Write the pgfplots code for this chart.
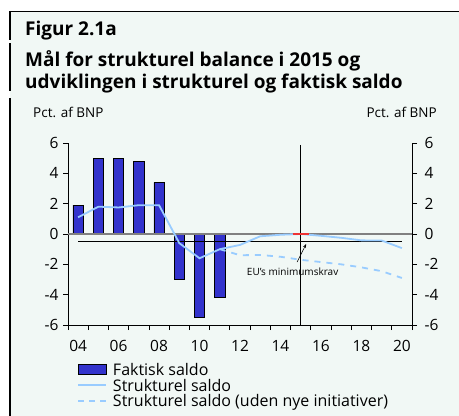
\documentclass[border=0pt]{standalone}
\usepackage{pgfplots}
\pgfplotsset{compat=1.18}
\usetikzlibrary{arrows.meta}
\usepackage{fontspec}
\setmainfont{Open Sans}
\definecolor{bg}{HTML}{F1F8F5}
\definecolor{barblue}{HTML}{3333CC}
\definecolor{lblue}{HTML}{99CCFF}
\definecolor{tred}{HTML}{EE3333}
\begin{document}
\begin{tikzpicture}[x=1pt,y=1pt]
\path[use as bounding box] (0,0) rectangle (459,-416);
\fill[bg] (10,-11) rectangle (459,-416);
\draw[line width=1pt] (9,-11) -- (459,-11);
\draw[line width=1.2pt] (10,-11) -- (10,-40) (10,-43) -- (10,-91) (10,-98) -- (10,-416);
\node[anchor=base west, inner sep=0, font=\fontsize{19}{22}\selectfont\bfseries] at (25,-35) {Figur 2.1a};
\node[anchor=base west, inner sep=0, font=\fontsize{19}{22}\selectfont\bfseries] at (25,-66) {Mål for strukturel balance i 2015 og};
\node[anchor=base west, inner sep=0, font=\fontsize{19}{22}\selectfont\bfseries] at (25,-88) {udviklingen i strukturel og faktisk saldo};
\node[anchor=base west, inner sep=0, font=\fontsize{13.5}{16}\selectfont] at (33,-117) {Pct. af BNP};
\node[anchor=base east, inner sep=0, font=\fontsize{13.5}{16}\selectfont] at (437,-117) {Pct. af BNP};

\begin{axis}[at={(68pt,-325pt)}, anchor=south west, scale only axis,
  width=344pt, height=182pt,
  xmin=2003.5, xmax=2020.5, ymin=-6, ymax=6,
  axis x line*=bottom, axis y line*=left,
  axis line style={line width=0.8pt, -},
  tick style={black, line width=0.8pt},
  major tick length=5pt, tick align=outside,
  ytick={-6,-4,-2,0,2,4,6}, yticklabels={-6,-4,-2,0,2,4,6},
  yticklabel style={xshift=-1pt},
  xtick={2003.5,2004.5,2005.5,2006.5,2007.5,2008.5,2009.5,2010.5,2011.5,2012.5,2013.5,2014.5,2015.5,2016.5,2017.5,2018.5,2019.5,2020.5},
  xticklabels={},
  extra x ticks={2004,2006,2008,2010,2012,2014,2016,2018,2020},
  extra x tick labels={04,06,08,10,12,14,16,18,20},
  extra x tick style={major tick length=0pt, xticklabel style={yshift=-12pt}},
  ticklabel style={font=\fontsize{15.5}{16}\selectfont},
  clip=false,
  legend cell align=left,
  legend style={at={(rel axis cs:0,0)}, anchor=north west, xshift=9pt, yshift=-39pt,
    draw=none, fill=none, inner sep=0pt, row sep=0pt,
    nodes={inner sep=0pt, text height=11.5pt, text depth=4pt, font=\fontsize{16}{16}\selectfont},
    /tikz/every odd column/.append style={column sep=6pt}},
]
\addplot[ybar, bar width=10.3pt, fill=barblue, draw=black, line width=0.6pt,
  legend image code/.code={\draw[fill=barblue, draw=black, line width=0.6pt] (0pt,-2.75pt) rectangle (28pt,7.25pt);}]
  coordinates {(2004,1.9)(2005,5.0)(2006,5.0)(2007,4.8)(2008,3.4)(2009,-3.0)(2010,-5.5)(2011,-4.2)};
\addlegendentry{Faktisk saldo}
\addplot[color=gray, line width=1.8pt, forget plot] coordinates {(2003.5,0)(2020.5,0)};
\addplot[color=black, line width=0.8pt, forget plot] coordinates {(2004,-0.5)(2020,-0.5)};
\addplot[color=black, line width=0.8pt, forget plot] coordinates {(2015,5.87)(2015,-6)};
\addplot[color=lblue, line width=1.8pt, legend image code/.code={\draw[lblue, line width=1.8pt] (0pt,2.25pt) -- (28pt,2.25pt);}]
  coordinates {(2004,1.1)(2005,1.8)(2006,1.75)(2007,1.9)(2008,1.9)(2009,-0.6)(2010,-1.6)(2011,-1.0)(2012,-0.72)(2013,-0.15)(2014,-0.05)(2015,0.0)(2016,-0.12)(2017,-0.25)(2018,-0.42)(2019,-0.43)(2020,-0.93)};
\addlegendentry{Strukturel saldo}
\addplot[color=lblue, line width=1.8pt, dash pattern=on 6pt off 6pt, legend image code/.code={\draw[lblue, line width=1.8pt, dash pattern=on 6pt off 5pt] (0pt,2.25pt) -- (28pt,2.25pt);}]
  coordinates {(2011,-1.0)(2012,-1.4)(2013,-1.38)(2014,-1.5)(2015,-1.7)(2016,-1.85)(2017,-2.0)(2018,-2.2)(2019,-2.45)(2020,-2.9)};
\addlegendentry{Strukturel saldo (uden nye initiativer)}
\addplot[color=tred, line width=1.8pt, forget plot] coordinates {(2014.6,0)(2015.4,0)};
\node[font=\fontsize{10}{12}\selectfont, anchor=base, inner sep=0pt] at (axis cs:2014.6,-2.75) {EU’s minimumskrav};
\draw[-{Stealth[length=4pt,width=3pt]}, line width=0.5pt] (axis cs:2014.82,-1.85) -- (axis cs:2015.27,-0.66);
\end{axis}

\begin{axis}[at={(68pt,-325pt)}, anchor=south west, scale only axis,
  width=344pt, height=182pt,
  xmin=2003.5, xmax=2020.5, ymin=-6, ymax=6,
  axis y line*=right, axis x line=none,
  axis line style={line width=0.8pt, -},
  tick style={black, line width=0.8pt},
  major tick length=5pt, tick align=outside,
  ytick={-6,-4,-2,0,2,4,6}, yticklabels={-6,-4,-2,0,2,4,6},
  yticklabel style={xshift=4pt},
  ticklabel style={font=\fontsize{15.5}{16}\selectfont},
]
\addplot[draw=none] coordinates {(2004,0)};
\end{axis}
\end{tikzpicture}
\end{document}
